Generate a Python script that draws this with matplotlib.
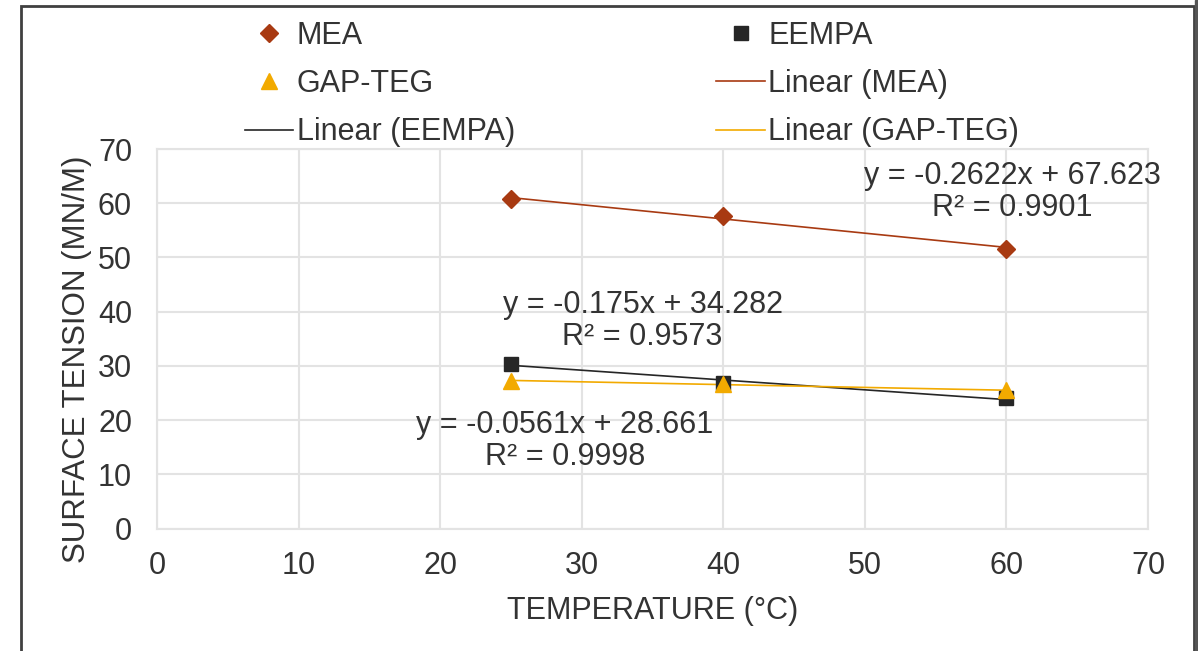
import numpy as np
import matplotlib.pyplot as plt
from matplotlib.lines import Line2D
from matplotlib.patches import Rectangle

plt.rcParams['font.family'] = ['Liberation Sans', 'DejaVu Sans']

temp = [25, 40, 60]
mea = [60.7, 57.7, 51.6]
eempa = [30.4, 26.9, 24.0]
gap_teg = [27.3, 26.6, 25.5]

eq_mea = 'y = -0.2622x + 67.623\nR² = 0.9901'
eq_eempa = 'y = -0.175x + 34.282\nR² = 0.9573'
eq_gap = 'y = -0.0561x + 28.661\nR² = 0.9998'

c_mea = '#A83A12'
c_eempa = '#262626'
c_gap = '#F2AA00'
c_txt = '#333333'
c_grid = '#e3e3e3'
fs = 22

fig = plt.figure(figsize=(11.98, 6.51), dpi=100)
ax = fig.add_axes([0.1311, 0.188, 0.8272, 0.5831])

x = np.array(temp)
series = [(mea, c_mea, 'D', 9), (eempa, c_eempa, 's', 10),
          (gap_teg, c_gap, '^', 11)]
for y, c, m, ms in series:
    k, b = np.polyfit(x, y, 1)
    ax.plot(x, k * x + b, color=c, lw=1.2, zorder=2)
for y, c, m, ms in series:
    ax.plot(x, y, m, color=c, ms=ms, ls='none', zorder=3)

for (tx, ty), s in [((60.4, 62.1), eq_mea), ((34.3, 38.3), eq_eempa),
                    ((28.8, 16.1), eq_gap)]:
    ax.text(tx, ty, s, ha='center', va='center', fontsize=fs,
            color=c_txt, linespacing=1.1)

ax.set_xlim(0, 70)
ax.set_ylim(0, 70)
ax.set_xticks(np.arange(0, 80, 10))
ax.set_yticks(np.arange(0, 80, 10))
ax.grid(True, color=c_grid, lw=1.5)
ax.set_axisbelow(True)
for s in ax.spines.values():
    s.set_color(c_grid)
    s.set_linewidth(1.5)
ax.tick_params(length=0, labelsize=fs, labelcolor=c_txt)
ax.tick_params(axis='x', pad=16)
ax.tick_params(axis='y', pad=18)
ax.set_xlabel('TEMPERATURE (°C)', fontsize=fs, color=c_txt, labelpad=11)
ax.set_ylabel('SURFACE TENSION (MN/M)', fontsize=22.5, color=c_txt,
              labelpad=4)
ax.yaxis.label.set_y(0.445)

h = [Line2D([], [], marker='D', color=c_mea, ls='none', ms=9),
     Line2D([], [], marker='^', color=c_gap, ls='none', ms=11),
     Line2D([], [], color=c_eempa, lw=1.2),
     Line2D([], [], marker='s', color=c_eempa, ls='none', ms=10),
     Line2D([], [], color=c_mea, lw=1.2),
     Line2D([], [], color=c_gap, lw=1.2)]
lbl = ['MEA', 'GAP-TEG', 'Linear (EEMPA)', 'EEMPA', 'Linear (MEA)',
       'Linear (GAP-TEG)']
leg = fig.legend(h, lbl, ncol=2, loc='center', bbox_to_anchor=(0.5275, 0.871),
                 frameon=False, fontsize=fs, labelcolor=c_txt,
                 handlelength=1.6, handletextpad=0.1, columnspacing=6.6,
                 labelspacing=0.6)

fig.patches.append(Rectangle((21 / 1198, -0.05), (1194 - 21) / 1198,
                             1.05 - 6 / 651, transform=fig.transFigure,
                             fill=False, edgecolor='#404040', lw=2))
fig.patches.append(Rectangle((1195 / 1198, -0.05), 3 / 1198, 1.05,
                             transform=fig.transFigure, color='#555555'))

fig.savefig('out.png', dpi=100)
